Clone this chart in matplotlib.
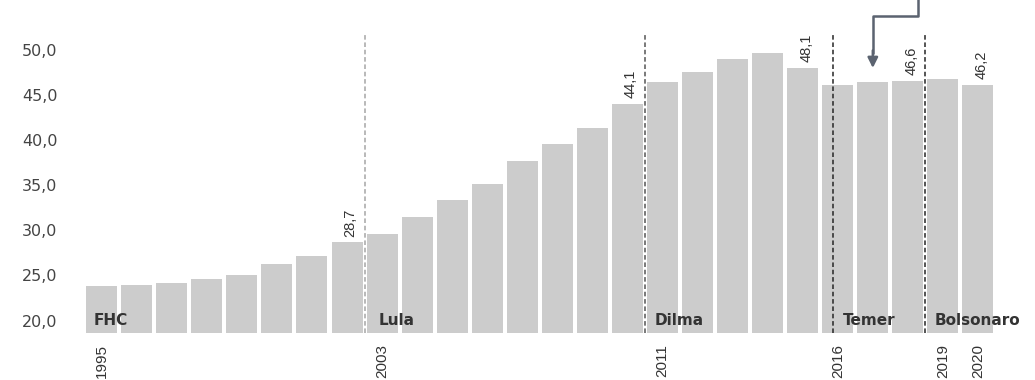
import matplotlib
matplotlib.use("Agg")
import matplotlib.pyplot as plt

years = list(range(1995, 2021))
values = [23.8, 23.9, 24.2, 24.6, 25.1, 26.3, 27.2, 28.7, 29.6, 31.5, 33.4, 35.2, 37.7,
          39.6, 41.4, 44.1, 46.5, 47.6, 49.1, 49.7, 48.1, 46.2, 46.5, 46.6, 46.8, 46.2]
labeled_years = [2002, 2010, 2015, 2018, 2020]
tick_years = [1995, 2003, 2011, 2016, 2019, 2020]
yticks = [20, 25, 30, 35, 40, 45, 50]
terms = ["FHC", "Lula", "Dilma", "Temer", "Bolsonaro"]
term_starts = [1995.0, 2003.0, 2011.0, 2016.36, 2019.0]
line_colors = [None, "#a6a6a6", "#555555", "#262626", "#262626"]

narrow = ["Liberation Sans", "DejaVu Sans"]

fig = plt.figure(figsize=(10.35, 3.8), dpi=100)
ax = fig.add_axes([82.4 / 1035, (380 - 333.3) / 380, (995.5 - 82.4) / 1035, 333.3 / 380])

x = [y - years[0] for y in years]
ax.bar(x, values, width=0.885, color="#cccccc", bottom=0)
ax.set_ylim(18.58, 55.6)
ax.set_xlim(-0.55, 25.5)

for s in ax.spines.values():
    s.set_visible(False)

ax.set_yticks(yticks)
ax.set_yticklabels([f"{v:.1f}".replace(".", ",") for v in yticks],
                   fontsize=11.5, color="#444444", family="DejaVu Sans")
ax.tick_params(axis="y", length=0, pad=18)

ax.set_xticks([y - years[0] for y in tick_years])
ax.set_xticklabels([str(y) for y in tick_years], rotation=90, fontsize=11,
                   color="#333333", family=narrow)
ax.tick_params(axis="x", length=0, pad=8)

# value labels
for yr in labeled_years:
    i = years.index(yr)
    ax.annotate(f"{values[i]:.1f}".replace(".", ","), (x[i], values[i]),
                xytext=(2.5, 4), textcoords="offset points", rotation=90,
                ha="center", va="bottom", fontsize=10.5, color="#333333", family=narrow)

# term dividers and names
for name, start, lc in zip(terms, term_starts, line_colors):
    lx = start - years[0] - 0.5
    if lc is not None:
        ax.vlines(lx, 18.58, 51.8, colors=lc, linestyles=(0, (3, 1.8)), linewidth=1.1)
    ax.annotate(name, (lx, 20), xytext=(7 if name != "Lula" else 10, -3.3),
                textcoords="offset points", ha="left", va="baseline",
                fontsize=11, fontweight="bold", color="#333333", family="DejaVu Sans",
                annotation_clip=False)

# arrow pointing to 2017
ai = years.index(2017)
ax.plot([ai + 1.3, ai + 1.3, ai, ai], [56.5, 53.8, 53.8, 49.6], color="#5b6370",
        linewidth=1.8, clip_on=False, solid_capstyle="butt")
ax.annotate("", xy=(ai, 48.05), xytext=(ai, 50.0),
            arrowprops=dict(arrowstyle="-|>,head_length=0.6,head_width=0.3",
                            color="#5b6370", lw=1.8, shrinkA=0, shrinkB=0),
            annotation_clip=False)

fig.savefig("out.png", dpi=100)
